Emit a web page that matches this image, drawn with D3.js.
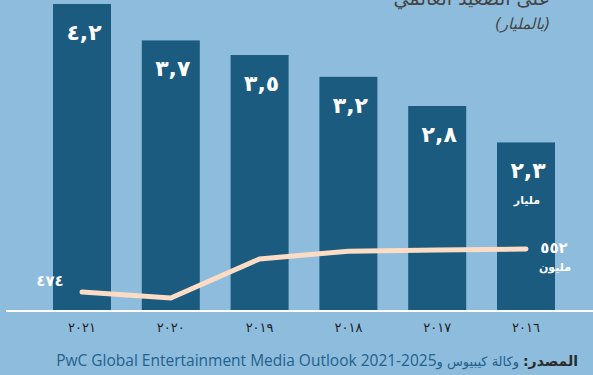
<!DOCTYPE html>
<html lang="ar">
<head>
<meta charset="utf-8">
<script src="https://cdn.jsdelivr.net/npm/d3@7"></script>
<style>
  html, body { margin: 0; padding: 0; background: #8ebcdc; }
  svg { display: block; }
</style>
</head>
<body>
<svg id="chart" width="593" height="375"></svg>
<script>
// Years, left to right
const years = ["٢٠٢١", "٢٠٢٠", "٢٠١٩", "٢٠١٨", "٢٠١٧", "٢٠١٦"];
// Revenue in billions (bars)
const billions = [4.2, 3.7, 3.5, 3.2, 2.8, 2.3];
const billionLabels = ["٤,٢", "٣,٧", "٣,٥", "٣,٢", "٢,٨", "٢,٣"];
// Users in millions (line)
const millions = [474, 463, 534, 548, 550, 552];
const firstMillionLabel = "٤٧٤";
const lastMillionLabel = "٥٥٢";

const W = 593, H = 375;
const svg = d3.select("#chart");

svg.append("rect").attr("width", W).attr("height", H).attr("fill", "#8ebcdc");

const x = d3.scaleBand().domain(years).range([53, 555]).paddingInner(0.347).paddingOuter(0);
const y = d3.scaleLinear().domain([0, 4.2]).range([310, 4]);
const yLine = d3.scaleLinear().domain([400, 600]).range([332.8, 222.5]);

const arabicFont = "'DejaVu Sans', sans-serif";

// title (its upper part runs off the top edge)
svg.append("text")
  .attr("x", 550).attr("y", 5)
  .attr("direction", "rtl")
  .attr("text-anchor", "start")
  .attr("font-family", arabicFont)
  .attr("font-size", 19)
  .attr("fill", "#444")
  .text("على الصعيد العالمي");

svg.append("text")
  .attr("x", 550).attr("y", 29)
  .attr("direction", "rtl")
  .attr("text-anchor", "start")
  .attr("font-family", arabicFont)
  .attr("font-style", "italic")
  .attr("font-size", 15)
  .attr("fill", "#444")
  .text("(بالمليار)");

// bars
svg.append("g").selectAll("rect")
  .data(years)
  .join("rect")
  .attr("x", d => x(d))
  .attr("y", (d, i) => y(billions[i]))
  .attr("width", x.bandwidth())
  .attr("height", (d, i) => y(0) - y(billions[i]))
  .attr("fill", "#1a5b7f");

// bar value labels
svg.append("g").selectAll("text")
  .data(years)
  .join("text")
  .attr("x", d => x(d) + x.bandwidth() / 2 + 2)
  .attr("y", (d, i) => y(billions[i]) + 36)
  .attr("text-anchor", "middle")
  .attr("direction", "ltr")
  .attr("font-family", arabicFont)
  .attr("font-weight", "bold")
  .attr("font-size", 22)
  .attr("letter-spacing", 4)
  .attr("fill", "#fff")
  .text((d, i) => billionLabels[i]);

// unit under the last bar label
const lastYear = years[years.length - 1];
svg.append("text")
  .attr("x", x(lastYear) + x.bandwidth() / 2 + 1)
  .attr("y", y(billions[billions.length - 1]) + 62)
  .attr("direction", "rtl")
  .attr("text-anchor", "middle")
  .attr("font-family", arabicFont)
  .attr("font-weight", "bold")
  .attr("font-size", 11)
  .attr("fill", "#fff")
  .text("مليار");

// baseline
svg.append("line")
  .attr("x1", 6).attr("x2", W)
  .attr("y1", 311).attr("y2", 311)
  .attr("stroke", "#fff").attr("stroke-width", 2);

// millions line
const line = d3.line()
  .x((d, i) => x(years[i]) + x.bandwidth() / 2)
  .y(d => yLine(d));

svg.append("path")
  .datum(millions)
  .attr("d", line)
  .attr("fill", "none")
  .attr("stroke", "#fcdcc4")
  .attr("stroke-width", 5)
  .attr("stroke-linecap", "round")
  .attr("stroke-linejoin", "miter");

const firstX = x(years[0]) + x.bandwidth() / 2;
const lastX = x(lastYear) + x.bandwidth() / 2;

svg.append("text")
  .attr("x", firstX - 32).attr("y", yLine(millions[0]) - 6)
  .attr("text-anchor", "middle")
  .attr("font-family", arabicFont)
  .attr("font-weight", "bold")
  .attr("font-size", 15)
  .attr("letter-spacing", 1)
  .attr("fill", "#fff")
  .text(firstMillionLabel);

svg.append("text")
  .attr("x", lastX + 28).attr("y", yLine(millions[millions.length - 1]) + 4)
  .attr("text-anchor", "middle")
  .attr("font-family", arabicFont)
  .attr("font-weight", "bold")
  .attr("font-size", 15)
  .attr("letter-spacing", 1)
  .attr("fill", "#fff")
  .text(lastMillionLabel);

svg.append("text")
  .attr("x", lastX + 29).attr("y", yLine(millions[millions.length - 1]) + 22)
  .attr("direction", "rtl")
  .attr("text-anchor", "middle")
  .attr("font-family", arabicFont)
  .attr("font-weight", "bold")
  .attr("font-size", 11)
  .attr("fill", "#fff")
  .text("مليون");

// x axis labels
const xAxis = d3.axisBottom(x).tickSize(0).tickPadding(0);
const gx = svg.append("g").attr("transform", "translate(0,323)").call(xAxis);
gx.select(".domain").remove();
gx.selectAll("text")
  .attr("font-family", arabicFont)
  .attr("font-size", 13)
  .attr("letter-spacing", 1.5)
  .attr("fill", "#1e1e1e");

// source line, composed right to left
const src = svg.append("g");
const rightEdge = 578, srcY = 366;
const t1 = src.append("text")
  .attr("x", rightEdge).attr("y", srcY)
  .attr("direction", "rtl").attr("text-anchor", "start")
  .attr("font-family", arabicFont).attr("font-weight", "bold")
  .attr("font-size", 14).attr("fill", "#2b2b2b")
  .text("المصدر:");
const w1 = t1.node().getComputedTextLength();
const t2 = src.append("text")
  .attr("x", rightEdge - w1 - 4).attr("y", srcY)
  .attr("direction", "rtl").attr("text-anchor", "start")
  .attr("font-family", arabicFont)
  .attr("font-size", 13).attr("fill", "#24618c")
  .text("وكالة كيبيوس و");
const w2 = t2.node().getComputedTextLength();
src.append("text")
  .attr("x", rightEdge - w1 - 4 - w2).attr("y", srcY)
  .attr("text-anchor", "end")
  .attr("font-family", "'Open Sans', sans-serif")
  .attr("font-size", 15.5).attr("fill", "#24618c")
  .text("PwC Global Entertainment Media Outlook 2021-2025");
</script>
</body>
</html>
